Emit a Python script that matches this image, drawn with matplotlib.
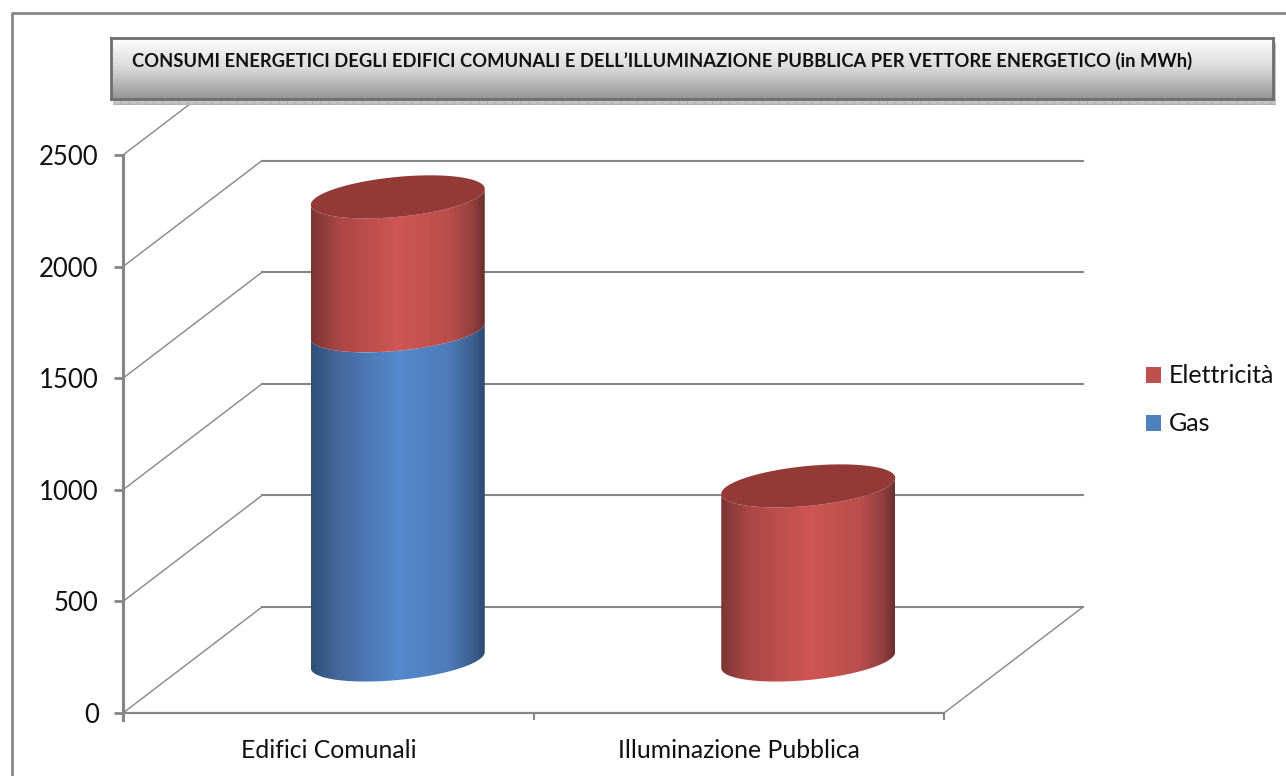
import matplotlib
matplotlib.use("Agg")
import matplotlib.pyplot as plt
import numpy as np
from matplotlib.colors import LinearSegmentedColormap
from matplotlib.lines import Line2D
from matplotlib.patches import Patch, Polygon, Rectangle

plt.rcParams['font.family'] = ['Lato', 'DejaVu Sans']
plt.rcParams['hatch.linewidth'] = 0.5

categories = ["Edifici Comunali", "Illuminazione Pubblica"]
gas = [1475, 0]
elettricita = [600, 780]
y_ticks = [0, 500, 1000, 1500, 2000, 2500]
title = "CONSUMI ENERGETICI DEGLI EDIFICI COMUNALI E DELL\u2019ILLUMINAZIONE PUBBLICA PER VETTORE ENERGETICO (in MWh)"

W, H = 1286, 776
GREY = "#868686"

# pixels per data unit and position of the origin
px_x = 821 / 2
px_y = 558 / 2500
x0, y0 = 123, 713

# oblique depth of the floor and size of the cylinders
depth_x = 139 / px_x
depth_y = 106 / px_y
half_w = 87 / px_x
ell_b = 20 / px_y
ell_k = 8 / px_y

fig = plt.figure(figsize=(W / 100, H / 100), dpi=100, facecolor="white")
ax = fig.add_axes([0, 0, 1, 1])
ax.patch.set_alpha(0)
ax.set_xlim(-x0 / px_x, (W - x0) / px_x)
ax.set_ylim(-(H - y0) / px_y, y0 / px_y)

# real axes, spines cut to the front plane
for side in ["top", "right"]:
    ax.spines[side].set_visible(False)
ax.spines["left"].set_position(("data", 0))
ax.spines["bottom"].set_position(("data", 0))
ax.spines["left"].set_bounds(-30, 2500)
ax.spines["bottom"].set_bounds(0, 2)
ax.spines["left"].set_color(GREY)
ax.spines["left"].set_linewidth(2.2)
ax.spines["bottom"].set_color(GREY)
ax.spines["bottom"].set_linewidth(1.6)
ax.set_yticks(y_ticks)
ax.set_xticks([0, 1, 2])
ax.set_xticklabels([])
ax.set_xticks([0.5, 1.5], minor=True)
ax.set_xticklabels(categories, minor=True, fontsize=17.8, color="#111111")
ax.tick_params(axis="y", length=6.5, width=2, color=GREY, pad=11, labelsize=18.5, labelcolor="#111111")
ax.tick_params(axis="x", which="major", length=5, width=1.5, color=GREY)
ax.tick_params(axis="x", which="minor", length=0, pad=19)

# back wall gridlines and the diagonals joining them to the y axis
x_back = depth_x
x_end = depth_x + 2
for v in y_ticks:
    ax.plot([0, x_back], [v, v + depth_y], color=GREY, lw=1.0, zorder=1)
    ax.plot([x_back, x_end], [v + depth_y, v + depth_y], color=GREY, lw=1.5, zorder=1)
ax.plot([2, x_end], [0, depth_y], color=GREY, lw=1.0, zorder=1)


def ellipse(cx, cy, t):
    return cx + half_w * np.cos(t), cy + ell_b * np.sin(t) + ell_k * np.cos(t)


def cylinder(cx, bottom, top, stops):
    # side of the cylinder: front arc at the top, front arc at the base
    t = np.linspace(np.pi, 2 * np.pi, 80)
    xb, yb = ellipse(cx, bottom, t)
    xt, yt = ellipse(cx, top, t[::-1])
    pts = np.column_stack([np.r_[xb, xt], np.r_[yb, yt]])
    cmap = LinearSegmentedColormap.from_list("side", list(zip([0, 0.16, 0.5, 0.8, 0.93, 1], stops)))
    grad = np.linspace(0, 1, 256).reshape(1, -1)
    ymin, ymax = pts[:, 1].min(), pts[:, 1].max()
    im = ax.imshow(grad, cmap=cmap, aspect="auto", zorder=3,
                   extent=(cx - half_w, cx + half_w, ymin, ymax), interpolation="bilinear")
    clip = Polygon(pts, closed=True, transform=ax.transData, fc="none", ec="none")
    ax.add_patch(clip)
    im.set_clip_path(clip)


blue_side = ["#2f4f78", "#44699d", "#5689cf", "#4c7bb8", "#3c5f8e", "#2c4a70"]
red_side = ["#7c3534", "#aa4746", "#cf5654", "#b94e4c", "#93403f", "#6c2f2f"]

base = depth_y / 2
for i in range(len(categories)):
    cx = i + 0.5 + depth_x / 2
    stack = base
    if gas[i] > 0:
        cylinder(cx, stack, stack + gas[i], blue_side)
        stack += gas[i]
    if elettricita[i] > 0:
        cylinder(cx, stack, stack + elettricita[i], red_side)
        stack += elettricita[i]
    # lid of the cylinder
    tt = np.linspace(0, 2 * np.pi, 160)
    lx, ly = ellipse(cx, stack, tt)
    ax.fill(lx, ly, color="#933a37", lw=0, zorder=4)

ax.set_xlim(-x0 / px_x, (W - x0) / px_x)
ax.set_ylim(-(H - y0) / px_y, y0 / px_y)

# legend, last series first
handles = [Patch(fc="#c0504d", ec="none", label="Elettricit\u00e0"), Patch(fc="#4f81bd", ec="none", label="Gas")]
ax.legend(handles=handles, loc="center left", bbox_to_anchor=(1133.5 / W, 1 - 400 / H), frameon=False,
          fontsize=18, handlelength=0.6, handleheight=0.6, handletextpad=0.32, labelspacing=1.0,
          labelcolor="#111111", borderpad=0.5, borderaxespad=0)

# outer frame of the chart area
fig.add_artist(Line2D([12 / W, 12 / W, 1], [0, 1 - 13 / H, 1 - 13 / H], color=GREY, lw=2))

# title box with hatched shadow and grey gradient
shadow = Rectangle((113 / W, 1 - 105 / H), 1163 / W, 62 / H, transform=fig.transFigure,
                   fc="#c4c4c4", ec="#a8a8a8", hatch="++", lw=0, zorder=1)
fig.add_artist(shadow)
tax = fig.add_axes([111 / W, 1 - 99 / H, 1162 / W, 61 / H], zorder=2)
cmap_title = LinearSegmentedColormap.from_list("title", ["#ffffff", "#d8d8d8", "#969696"])
tax.imshow(np.linspace(0, 1, 128).reshape(-1, 1), cmap=cmap_title, aspect="auto", extent=(0, 1, 0, 1))
tax.set_xticks([])
tax.set_yticks([])
for s in tax.spines.values():
    s.set_color("#6e6e6e")
    s.set_linewidth(2)
tax.text(21 / 1162, 0.62, title, fontsize=13.27, fontweight="bold", color="#111111", ha="left", va="center")

fig.savefig("out.png", dpi=100)
